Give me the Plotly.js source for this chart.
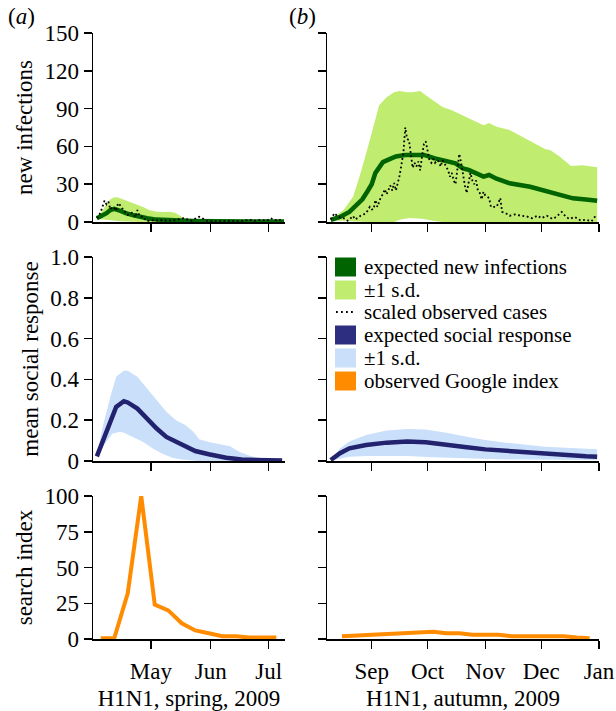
<!DOCTYPE html>
<html><head><meta charset="utf-8">
<script src="https://cdn.plot.ly/plotly-3.0.1.min.js"></script>
<style>html,body{margin:0;padding:0;background:#fff}#chart{width:616px;height:711px}</style>
</head><body><div id="chart"></div>
<script>
// ---------------- DATA ----------------
// (a) spring 2009 - new infections
const springExpDates = ['2009-04-03','2009-04-05','2009-04-08','2009-04-10','2009-04-12','2009-04-14','2009-04-16','2009-04-18','2009-04-22','2009-04-25','2009-04-29','2009-05-04','2009-05-09','2009-05-16','2009-05-23','2009-06-04','2009-07-09'];
const springExpected = [3,4.5,7,9.5,10.5,9.5,8,7,5.3,4.2,3,1.9,1.5,1,0.8,0.5,0.4];
const springUpperDates = ['2009-04-03','2009-04-05','2009-04-07','2009-04-09','2009-04-10','2009-04-12','2009-04-14','2009-04-15','2009-04-18','2009-04-22','2009-04-25','2009-04-27','2009-04-30','2009-05-04','2009-05-08','2009-05-11','2009-05-14','2009-05-16','2009-05-19','2009-05-26','2009-06-10','2009-07-09'];
const springUpper = [3,7,12,16,18,19.6,19.5,18.8,17,14.8,13,12,9.5,8.2,8,8.2,7,5,2.2,1.6,1.2,1];
const springLowerDates = ['2009-04-03','2009-04-06','2009-04-10','2009-04-15','2009-04-25','2009-07-09'];
const springLower = [2.5,2,1,0.5,0,0];
const springObsDates = ['2009-04-03','2009-04-04','2009-04-05','2009-04-06','2009-04-07','2009-04-08','2009-04-09','2009-04-10','2009-04-11','2009-04-12','2009-04-13','2009-04-14','2009-04-15','2009-04-16','2009-04-17','2009-04-18','2009-04-19','2009-04-20','2009-04-21','2009-04-22','2009-04-23','2009-04-24','2009-04-25','2009-04-26','2009-04-27','2009-04-28','2009-04-29','2009-04-30','2009-05-03','2009-05-05','2009-05-07','2009-05-09','2009-05-11','2009-05-14','2009-05-18','2009-05-22','2009-05-26','2009-05-30','2009-06-04','2009-06-10','2009-06-16','2009-06-21','2009-06-24','2009-06-27','2009-06-30','2009-07-02','2009-07-04','2009-07-06','2009-07-08'];
const springObserved = [3,5,8,13.5,17,14,16,10,12,11,9,15,13.5,11,9.5,7,5.6,7,7.4,6,3.8,9.5,5,4.2,4.5,2,0.8,1,1.7,1,1.7,1,1.1,1.5,3,1,4.2,1,0.5,1,0.5,1.8,1,1.8,1,3,1.8,1,2.6];

// (b) autumn 2009 - new infections
const autumnExpDates = ['2009-08-10','2009-08-15','2009-08-20','2009-08-23','2009-08-27','2009-08-30','2009-09-01','2009-09-03','2009-09-05','2009-09-07','2009-09-10','2009-09-14','2009-09-19','2009-09-29','2009-10-05','2009-10-09','2009-10-16','2009-10-20','2009-10-23','2009-10-31','2009-11-03','2009-11-07','2009-11-14','2009-11-25','2009-12-06','2009-12-12','2009-12-18','2009-12-25','2009-12-31'];
const autumnExpected = [1.6,4,8,12,18,25,30,39,44,47.5,49.5,52,53.2,53.2,50.5,49,46.6,42.6,41.3,36,37.3,34.4,30.7,28,24,21.5,18.8,17.8,16.9];
const autumnUpperDates = ['2009-08-10','2009-08-17','2009-08-22','2009-08-26','2009-08-30','2009-09-03','2009-09-05','2009-09-09','2009-09-13','2009-09-16','2009-09-20','2009-09-23','2009-09-27','2009-09-30','2009-10-04','2009-10-09','2009-10-14','2009-10-20','2009-10-25','2009-10-31','2009-11-03','2009-11-07','2009-11-14','2009-11-19','2009-11-25','2009-12-03','2009-12-06','2009-12-11','2009-12-17','2009-12-23','2009-12-31'];
const autumnUpper = [1.8,9.7,20,38.7,59.7,80.8,92.6,99,103,104,103,103,104,100.5,96.6,91.3,88.7,84.7,80.8,76.8,78.5,75.5,73,69,64,58,57,51.8,44.4,45,43.5];
const autumnLowerDates = ['2009-08-10','2009-08-29','2009-09-13','2009-09-16','2009-09-21','2009-09-28','2009-10-04','2009-10-09','2009-12-31'];
const autumnLower = [1.3,0,0,1.8,3.2,2.6,1,0,0];
const autumnObsDates = ['2009-08-10','2009-08-11','2009-08-12','2009-08-14','2009-08-16','2009-08-17','2009-08-19','2009-08-20','2009-08-22','2009-08-23','2009-08-25','2009-08-26','2009-08-28','2009-08-29','2009-08-31','2009-09-01','2009-09-02','2009-09-03','2009-09-04','2009-09-05','2009-09-06','2009-09-07','2009-09-08','2009-09-09','2009-09-10','2009-09-11','2009-09-12','2009-09-13','2009-09-14','2009-09-15','2009-09-16','2009-09-17','2009-09-18','2009-09-19','2009-09-20','2009-09-21','2009-09-22','2009-09-23','2009-09-24','2009-09-25','2009-09-26','2009-09-27','2009-09-28','2009-09-29','2009-09-30','2009-10-01','2009-10-02','2009-10-03','2009-10-04','2009-10-05','2009-10-06','2009-10-07','2009-10-08','2009-10-09','2009-10-10','2009-10-11','2009-10-12','2009-10-13','2009-10-14','2009-10-15','2009-10-16','2009-10-17','2009-10-18','2009-10-19','2009-10-20','2009-10-21','2009-10-22','2009-10-23','2009-10-24','2009-10-25','2009-10-26','2009-10-27','2009-10-28','2009-10-29','2009-10-30','2009-10-31','2009-11-01','2009-11-02','2009-11-03','2009-11-04','2009-11-05','2009-11-07','2009-11-08','2009-11-09','2009-11-10','2009-11-12','2009-11-14','2009-11-17','2009-11-20','2009-11-23','2009-11-26','2009-11-29','2009-12-01','2009-12-04','2009-12-07','2009-12-09','2009-12-12','2009-12-14','2009-12-16','2009-12-19','2009-12-22','2009-12-25','2009-12-28','2009-12-30'];
const autumnObserved = [2,4,7,4,3,3,1,2,4.8,2,3.7,5,6.3,7,12,10,10,17.5,12,17,20,22,26,22,25,29,25,31,25,30,37,46,55,75,66,65,52,43,47,44,48,41,52,62,64,55,49,47,50,47,49,48,44,49,47,44,41,36,39,33,30,44,54,47,36,29,23,31,39,33,30,33,25,23,18,24,21,20,19,12,12,12,15,19,8,7,5,6,5,4.5,3,5,3,5,2.4,4,8,4.5,2.4,4,1.3,1.8,0.5,4.5];

// mean social response
const springSocDates = ['2009-04-03','2009-04-06','2009-04-10','2009-04-13','2009-04-17','2009-04-19','2009-04-24','2009-04-29','2009-05-04','2009-05-09','2009-05-14','2009-05-19','2009-05-24','2009-05-31','2009-06-09','2009-06-17','2009-06-26','2009-07-08'];
const springSocial = [0.023,0.10,0.19,0.265,0.293,0.287,0.257,0.208,0.159,0.118,0.093,0.069,0.049,0.033,0.016,0.007,0.003,0.002];
const springSocUpperDates = ['2009-04-03','2009-04-06','2009-04-10','2009-04-13','2009-04-17','2009-04-19','2009-04-24','2009-04-29','2009-05-04','2009-05-09','2009-05-14','2009-05-19','2009-05-23','2009-05-26','2009-05-31','2009-06-05','2009-06-11','2009-06-16','2009-06-22','2009-06-29','2009-07-08'];
const springSocUpper = [0.023,0.167,0.315,0.413,0.443,0.443,0.413,0.356,0.298,0.241,0.2,0.175,0.143,0.107,0.093,0.085,0.072,0.044,0.023,0.011,0.007];
const springSocLowerDates = ['2009-04-03','2009-04-06','2009-04-11','2009-04-15','2009-04-17','2009-04-22','2009-04-27','2009-05-02','2009-05-07','2009-05-12','2009-05-17','2009-05-26','2009-07-08'];
const springSocLower = [0.02,0.069,0.134,0.143,0.139,0.118,0.093,0.061,0.036,0.016,0.007,0,0];
const autumnSocDates = ['2009-08-10','2009-08-15','2009-08-20','2009-08-29','2009-09-09','2009-09-20','2009-09-30','2009-10-11','2009-10-22','2009-11-01','2009-11-12','2009-11-23','2009-12-03','2009-12-14','2009-12-25','2009-12-31'];
const autumnSocial = [0.005,0.038,0.062,0.078,0.09,0.095,0.092,0.078,0.067,0.057,0.049,0.041,0.034,0.029,0.023,0.021];
const autumnSocUpper = [0.005,0.062,0.095,0.127,0.149,0.157,0.155,0.139,0.119,0.103,0.09,0.08,0.07,0.065,0.06,0.057];
const autumnSocLowerDates = ['2009-08-10','2009-08-20','2009-08-29','2009-09-09','2009-09-20','2009-10-04','2009-10-22','2009-11-08','2009-11-26','2009-12-31'];
const autumnSocLower = [0.002,0.021,0.025,0.026,0.025,0.018,0.011,0.008,0.007,0.005];

// Google search index (weekly)
const springSearchDates = ['2009-04-05','2009-04-12','2009-04-19','2009-04-26','2009-05-03','2009-05-10','2009-05-17','2009-05-24','2009-05-31','2009-06-07','2009-06-14','2009-06-21','2009-06-28','2009-07-05'];
const springSearch = [0.5,0.5,32,100,24,20,11,6,4,2,2,1,1,1];
const autumnSearchDates = ['2009-08-16','2009-08-23','2009-08-30','2009-09-06','2009-09-13','2009-09-20','2009-09-27','2009-10-04','2009-10-11','2009-10-18','2009-10-25','2009-11-01','2009-11-08','2009-11-15','2009-11-22','2009-11-29','2009-12-06','2009-12-13','2009-12-20','2009-12-27'];
const autumnSearch = [2,2.5,2.5,3.5,3.5,4,5,5,4,4,3,3,3,2,2,2,2,2,1,0.5];

// ticks
const springMonthTicks = ['2009-05-01','2009-06-01','2009-07-01'];
const springMonthLabels = ['May','Jun','Jul'];
const autumnMonthTicks = ['2009-09-01','2009-10-01','2009-11-01','2009-12-01','2010-01-01'];
const autumnMonthLabels = ['Sep','Oct','Nov','Dec','Jan'];
const infTicks = [0,30,60,90,120,150];
const socialTicks = [0,0.2,0.4,0.6,0.8,1];
const socialTickLabels = ['0','0.2','0.4','0.6','0.8','1.0'];
const searchTicks = [0,25,50,75,100];
const legendLabels = ['expected new infections','±1 s.d.','scaled observed cases','expected social response','±1 s.d.','observed Google index'];

// ---------------- STYLE ----------------
const W = 616, H = 711;
const FONT = "'Liberation Serif', 'Times New Roman', serif";
const C = {dg:'#006400', lg:'#c0ec70', navy:'#22226e', navySw:'#2e2e80', lb:'#c9dffa', orange:'#ff8c00'};
const px = v => v / W, py = v => 1 - v / H;

const traces = [];
function band(xl, yl, xu, yu, color, xa, ya) {
  traces.push({x:xl, y:yl, xaxis:xa, yaxis:ya, mode:'lines', line:{width:0, color:color}, hoverinfo:'skip', showlegend:false});
  traces.push({x:xu, y:yu, xaxis:xa, yaxis:ya, mode:'lines', line:{width:0, color:color}, fill:'tonexty', fillcolor:color, hoverinfo:'skip', showlegend:false});
}
function line(x, y, color, width, xa, ya, dash) {
  traces.push({x:x, y:y, xaxis:xa, yaxis:ya, mode:'lines', line:{color:color, width:width, dash:dash||'solid'}, showlegend:false});
}
// top row
band(springLowerDates, springLower, springUpperDates, springUpper, C.lg, 'x', 'y');
line(springExpDates, springExpected, C.dg, 4.5, 'x', 'y');
line(springObsDates, springObserved, '#000', 1.8, 'x', 'y', '1.8px,2.6px');
band(autumnLowerDates, autumnLower, autumnUpperDates, autumnUpper, C.lg, 'x2', 'y2');
line(autumnExpDates, autumnExpected, C.dg, 4.5, 'x2', 'y2');
line(autumnObsDates, autumnObserved, '#000', 1.8, 'x2', 'y2', '1.8px,2.6px');
// middle row
band(springSocLowerDates, springSocLower, springSocUpperDates, springSocUpper, C.lb, 'x3', 'y3');
line(springSocDates, springSocial, C.navy, 4.5, 'x3', 'y3');
band(autumnSocLowerDates, autumnSocLower, autumnSocDates, autumnSocUpper, C.lb, 'x4', 'y4');
line(autumnSocDates, autumnSocial, C.navy, 4.5, 'x4', 'y4');
// bottom row
line(springSearchDates, springSearch, C.orange, 4, 'x5', 'y5');
line(autumnSearchDates, autumnSearch, C.orange, 4, 'x6', 'y6');

const leftDom = [px(93), px(285)], rightDom = [px(327), px(599)];
const topDom = [py(222), py(33)], midDom = [py(461), py(257)], botDom = [py(639), py(496)];
const springRange = ['2009-04-01', '2009-07-09 12:00'], autumnRange = ['2009-08-08', '2010-01-01'];

const axBase = {showline:true, linecolor:'#000', linewidth:1.5, showgrid:false, zeroline:false,
  ticks:'outside', ticklen:8, tickwidth:1.5, tickcolor:'#000', tickfont:{family:FONT, size:23, color:'#000'}, fixedrange:true};
function xa(dom, range, tv, tt, anchor, labels, title) {
  const a = Object.assign({}, axBase, {type:'date', domain:dom, range:range, anchor:anchor, tickmode:'array', tickvals:tv, ticktext:tt, showticklabels:labels, ticklabelstandoff:3});
  if (title) a.title = {text:title, font:{family:FONT, size:23, color:'#000'}, standoff:7};
  return a;
}
function ya(dom, range, tv, tt, anchor, labels, title) {
  const a = Object.assign({}, axBase, {domain:dom, range:range, anchor:anchor, tickmode:'array', tickvals:tv, ticktext:tt, showticklabels:labels});
  if (title) a.title = {text:title, font:{family:FONT, size:23, color:'#000'}, standoff:5};
  return a;
}
const infLabels = infTicks.map(String), searchLabels = searchTicks.map(String);

const shapes = [], annotations = [];
// panel labels
annotations.push({xref:'paper', yref:'paper', x:px(6), y:py(17), xanchor:'left', yanchor:'middle', text:'(<i>a</i>)', showarrow:false, font:{family:FONT, size:23, color:'#000'}});
annotations.push({xref:'paper', yref:'paper', x:px(287), y:py(17), xanchor:'left', yanchor:'middle', text:'(<i>b</i>)', showarrow:false, font:{family:FONT, size:23, color:'#000'}});
// manual legend
const legendRows = [267, 290, 312, 335, 358, 381];
const swatchColors = [C.dg, C.lg, null, C.navySw, C.lb, C.orange];
legendRows.forEach((cy, i) => {
  if (swatchColors[i]) {
    shapes.push({type:'rect', xref:'paper', yref:'paper', x0:px(335), x1:px(356), y0:py(cy + 9.5), y1:py(cy - 9.5), fillcolor:swatchColors[i], line:{width:0}});
  } else {
    shapes.push({type:'line', xref:'paper', yref:'paper', x0:px(336), x1:px(356), y0:py(cy), y1:py(cy), line:{color:'#000', width:1.8, dash:'1.8px,3.2px'}});
  }
  annotations.push({xref:'paper', yref:'paper', x:px(362), y:py(cy), xanchor:'left', yanchor:'middle', text:legendLabels[i], showarrow:false, font:{family:FONT, size:21, color:'#000'}});
});

const layout = {
  width:W, height:H, margin:{l:0, r:0, t:0, b:0}, paper_bgcolor:'#fff', plot_bgcolor:'#fff', showlegend:false,
  font:{family:FONT, color:'#000'},
  xaxis: xa(leftDom, springRange, springMonthTicks, springMonthLabels, 'y', false),
  yaxis: ya(topDom, [0,150], infTicks, infLabels, 'x', true, 'new infections'),
  xaxis2: xa(rightDom, autumnRange, autumnMonthTicks, autumnMonthLabels, 'y2', false),
  yaxis2: ya(topDom, [0,150], infTicks, infLabels, 'x2', false),
  xaxis3: xa(leftDom, springRange, springMonthTicks, springMonthLabels, 'y3', false),
  yaxis3: ya(midDom, [0,1], socialTicks, socialTickLabels, 'x3', true, 'mean social response'),
  xaxis4: xa(rightDom, autumnRange, autumnMonthTicks, autumnMonthLabels, 'y4', false),
  yaxis4: ya(midDom, [0,1], socialTicks, socialTickLabels, 'x4', false),
  xaxis5: xa(leftDom, springRange, springMonthTicks, springMonthLabels, 'y5', true, 'H1N1, spring, 2009'),
  yaxis5: ya(botDom, [0,100], searchTicks, searchLabels, 'x5', true, 'search index'),
  xaxis6: xa(rightDom, autumnRange, autumnMonthTicks, autumnMonthLabels, 'y6', true, 'H1N1, autumn, 2009'),
  yaxis6: ya(botDom, [0,100], searchTicks, searchLabels, 'x6', false),
  shapes: shapes, annotations: annotations
};
Plotly.newPlot('chart', traces, layout, {staticPlot:true, displayModeBar:false});
</script></body></html>
